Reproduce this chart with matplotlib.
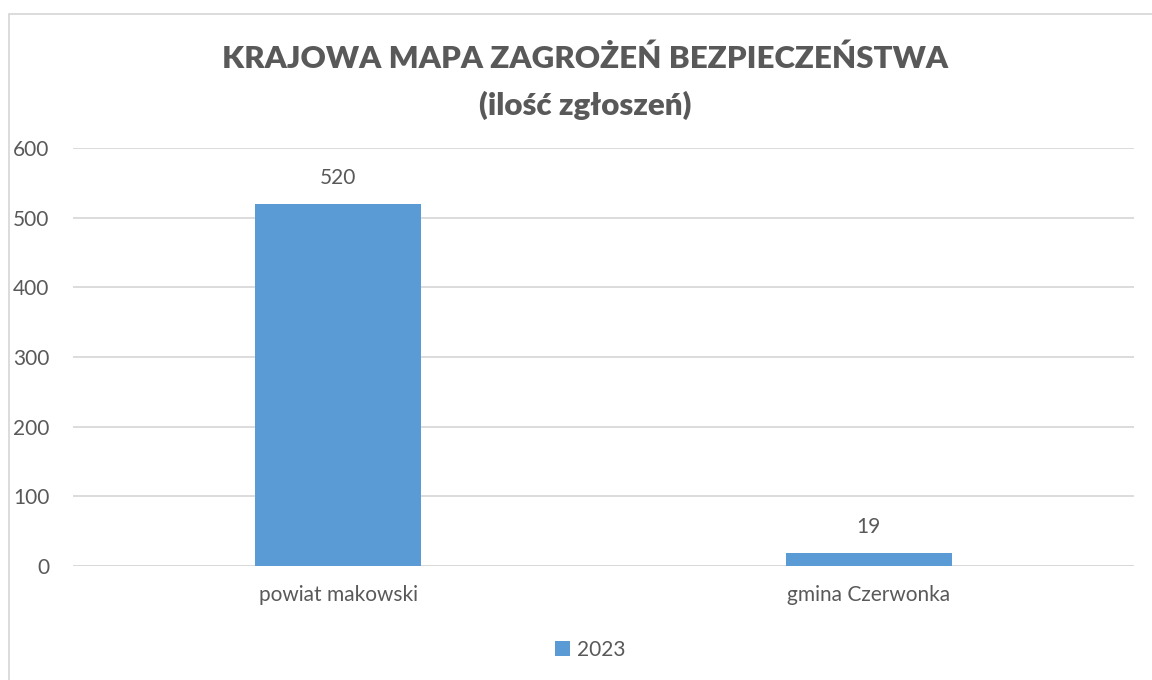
import matplotlib
matplotlib.use("Agg")
import matplotlib.pyplot as plt
from matplotlib.patches import Rectangle

categories = ["powiat makowski", "gmina Czerwonka"]
values_2023 = [520, 19]
series_name = "2023"
yticks = [0, 100, 200, 300, 400, 500, 600]
title = "KRAJOWA MAPA ZAGROŻEŃ BEZPIECZEŃSTWA\n(ilość zgłoszeń)"

plt.rcParams['font.family'] = ['Lato', 'DejaVu Sans']
txt = '#595959'
blue = '#5B9BD5'
grid = '#D9D9D9'
fs = 15

fig = plt.figure(figsize=(11.52, 6.8), dpi=100)
fig.patches.append(Rectangle((9/1152, -0.1), 1.2, 1 - 14/680 + 0.1, transform=fig.transFigure,
                             fill=False, edgecolor=grid, linewidth=1.3))

ax = fig.add_axes([73/1152, 1 - 566/680, (1134 - 73)/1152, (566 - 148)/680])
x = list(range(len(categories)))
bars = ax.bar(x, values_2023, width=0.313, color=blue, label=series_name, zorder=3)
ax.set_xlim(-0.5, len(categories) - 0.5)
ax.set_ylim(0, 600)
ax.set_yticks(yticks)
ax.set_yticklabels([str(v) for v in yticks], fontsize=fs, color=txt)
ax.set_xticks(x)
ax.set_xticklabels(categories, fontsize=fs, color=txt)
ax.tick_params(axis='both', length=0)
ax.tick_params(axis='y', pad=17)
ax.tick_params(axis='x', pad=14)
ax.grid(axis='y', color=grid, linewidth=1.3, zorder=0)
for s in ax.spines.values():
    s.set_visible(False)
ax.axhline(0, color=grid, linewidth=1.3, zorder=2)
for b, v in zip(bars, values_2023):
    ax.annotate(str(v), (b.get_x() + b.get_width()/2, v), xytext=(0, 11), textcoords='offset points',
                ha='center', va='bottom', fontsize=fs, color=txt)

fig.text(585/1152, 1 - 82/680, title, ha='center', va='center', fontsize=22.5, fontweight='heavy',
         color=txt, linespacing=1.75)

fig.legend(handles=[bars], labels=[series_name], loc='center', bbox_to_anchor=(590/1152, 1 - 650/680),
           frameon=False, fontsize=fs, handlelength=0.75, handleheight=0.75, handletextpad=0.3,
           labelcolor=txt)

fig.savefig("out.png", dpi=100, facecolor='white')
